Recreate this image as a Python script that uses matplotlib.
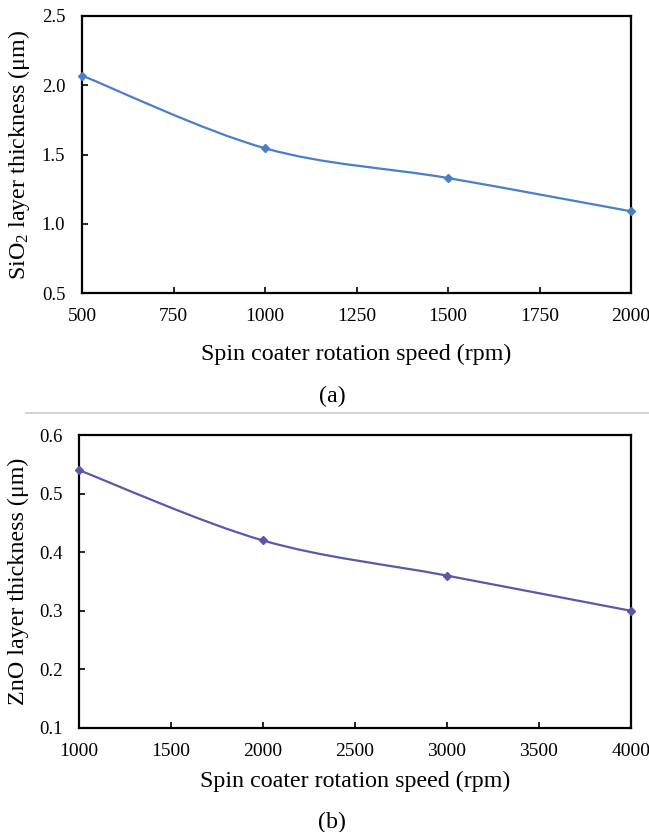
import matplotlib
matplotlib.use("Agg")
import matplotlib.pyplot as plt
from matplotlib.path import Path
from matplotlib.patches import PathPatch
from matplotlib.lines import Line2D
import numpy as np

plt.rcParams['font.family'] = ['Liberation Serif', 'DejaVu Serif']
plt.rcParams['mathtext.fontset'] = 'custom'
plt.rcParams['mathtext.rm'] = 'Liberation Serif'
plt.rcParams['mathtext.it'] = 'Liberation Serif:italic'

# Data
sio2_speed = [500, 1000, 1500, 2000]
sio2_thick = [2.07, 1.545, 1.33, 1.09]
sio2_xticks = [500, 750, 1000, 1250, 1500, 1750, 2000]
sio2_yticks = [0.5, 1.0, 1.5, 2.0, 2.5]

zno_speed = [1000, 2000, 3000, 4000]
zno_thick = [0.54, 0.42, 0.36, 0.30]
zno_xticks = [1000, 1500, 2000, 2500, 3000, 3500, 4000]
zno_yticks = [0.1, 0.2, 0.3, 0.4, 0.5, 0.6]

xlabel = "Spin coater rotation speed (rpm)"
ylabel_a = r"SiO$_2$ layer thickness (μm)"
ylabel_b = "ZnO layer thickness (μm)"

col_a = "#4A7EC6"
col_b = "#5A58AA"


def smooth_path(xs, ys):
    pts = np.column_stack([xs, ys]).astype(float)
    n = len(pts)
    verts = [pts[0]]
    codes = [Path.MOVETO]
    for i in range(n - 1):
        p0 = pts[i - 1] if i > 0 else pts[i]
        p1 = pts[i]
        p2 = pts[i + 1]
        p3 = pts[i + 2] if i + 2 < n else pts[i + 1]
        c1 = p1 + (p2 - p0) / 6.0
        c2 = p2 - (p3 - p1) / 6.0
        verts += [c1, c2, p2]
        codes += [Path.CURVE4] * 3
    return Path(verts, codes)


def draw(ax, xs, ys, xticks, yticks, col, ylabel, yfmt, xlabelpad):
    patch = PathPatch(smooth_path(xs, ys), facecolor='none', edgecolor=col,
                      lw=1.6, transform=ax.transData, clip_on=False, zorder=3)
    ax.add_patch(patch)
    ax.plot(xs, ys, linestyle='none', marker='D', markersize=4.5, color=col,
            clip_on=False, zorder=4)
    ax.set_xlim(xticks[0], xticks[-1])
    ax.set_ylim(yticks[0], yticks[-1])
    ax.set_xticks(xticks)
    ax.set_yticks(yticks)
    ax.set_yticklabels([yfmt % v for v in yticks])
    ax.tick_params(direction='in', length=4, width=1.2, colors='black')
    ax.tick_params(axis='x', pad=11, labelsize=14)
    ax.tick_params(axis='y', pad=12, labelsize=13.5)
    for s in ax.spines.values():
        s.set_linewidth(1.6)
        s.set_color('black')
    ax.set_xlabel(xlabel, fontsize=17.3, labelpad=xlabelpad)
    ax.set_ylabel(ylabel, fontsize=17.3, labelpad=7)


fig = plt.figure(figsize=(6.49, 8.32), dpi=100)

ax1 = fig.add_axes([82 / 649, 1 - 293 / 832, (631 - 82) / 649, (293 - 16) / 832])
draw(ax1, sio2_speed, sio2_thick, sio2_xticks, sio2_yticks, col_a, ylabel_a, "%.1f", 13)

ax2 = fig.add_axes([79 / 649, 1 - 728 / 832, (631 - 79) / 649, (728 - 435) / 832])
draw(ax2, zno_speed, zno_thick, zno_xticks, zno_yticks, col_b, ylabel_b, "%.1f", 7.5)

fig.text(332 / 649, 1 - 396 / 832, "(a)", ha='center', va='center', fontsize=17.3)
fig.text(332 / 649, 1 - 822 / 832, "(b)", ha='center', va='center', fontsize=17.3)

fig.add_artist(Line2D([0.04, 1.0], [1 - 413 / 832, 1 - 413 / 832],
                      transform=fig.transFigure, color='#d4d4d4', lw=1.5))

fig.savefig("out.png", dpi=100)
